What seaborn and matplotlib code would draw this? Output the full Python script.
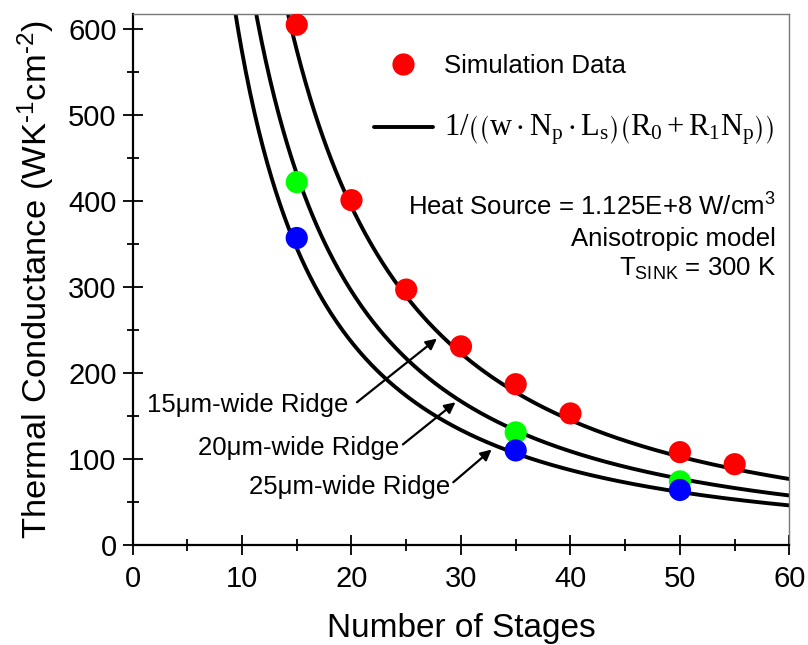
import numpy as np
import pandas as pd
import matplotlib
matplotlib.use("Agg")
import matplotlib.pyplot as plt
from matplotlib.lines import Line2D
import seaborn as sns

# Simulated thermal conductance per ridge width
STAGES_15 = [15, 20, 25, 30, 35, 40, 50, 55]
G_15 = [605, 401, 297, 231, 187, 153, 108, 94]
STAGES_20 = [15, 35, 50]
G_20 = [422, 131, 74]
STAGES_25 = [15, 35, 50]
G_25 = [357, 110, 64]

# Model 1/((w*Np*Ls)(R0 + R1*Np)) for each ridge width
RIDGE_WIDTHS_UM = [15, 20, 25]
STAGE_LENGTH_CM = 0.3
R0 = 0.1824
R1 = 0.005

X_TICKS = [0, 10, 20, 30, 40, 50, 60]
Y_TICKS = [0, 100, 200, 300, 400, 500, 600]

sns.set_theme(style="ticks")
plt.rcParams["font.family"] = ["Liberation Sans", "DejaVu Sans"]
plt.rcParams["mathtext.fontset"] = "stix"
plt.rcParams["mathtext.default"] = "regular"
for key in ("text.color", "axes.labelcolor", "xtick.color", "ytick.color"):
    plt.rcParams[key] = "black"

fig = plt.figure(figsize=(8.08, 6.45), dpi=100)
ax = fig.add_axes([0.164, 0.155, 0.813, 0.824])

# model curves
n_grid = np.linspace(8, 60, 400)
rows = []
for w in RIDGE_WIDTHS_UM:
    g = 1.0 / (w * 1e-4 * n_grid * STAGE_LENGTH_CM * (R0 + R1 * n_grid))
    rows.append(pd.DataFrame({"N": n_grid, "G": g, "w": w}))
curves = pd.concat(rows, ignore_index=True)
sns.lineplot(data=curves, x="N", y="G", units="w", estimator=None,
             color="black", lw=2.8, ax=ax, legend=False, zorder=2)

# simulation points
pts = pd.concat([
    pd.DataFrame({"N": STAGES_15, "G": G_15, "w": "15"}),
    pd.DataFrame({"N": STAGES_20, "G": G_20, "w": "20"}),
    pd.DataFrame({"N": STAGES_25, "G": G_25, "w": "25"}),
], ignore_index=True)
sns.scatterplot(data=pts, x="N", y="G", hue="w",
                palette={"15": "#ff0000", "20": "#00ff00", "25": "#0000ff"},
                s=255, edgecolor="none", ax=ax, legend=False, zorder=3)

ax.set_xlim(0, 60)
ax.set_ylim(0, 618)
ax.set_xticks(X_TICKS)
ax.set_yticks(Y_TICKS)
ax.set_xticks(np.arange(5, 60, 10), minor=True)
ax.set_yticks(np.arange(50, 618, 100), minor=True)
ax.tick_params(axis="both", which="major", direction="inout", length=15,
               width=1.3, labelsize=21, color="black")
ax.tick_params(axis="x", which="major", pad=7)
ax.tick_params(axis="y", which="major", pad=4)
ax.tick_params(axis="both", which="minor", direction="inout", length=8,
               width=1.3, color="black")
for side in ("left", "bottom"):
    ax.spines[side].set_color("black")
    ax.spines[side].set_linewidth(1.6)
for side in ("top", "right"):
    ax.spines[side].set_visible(True)
    ax.spines[side].set_color("#777777")
    ax.spines[side].set_linewidth(1.0)

ax.set_xlabel("Number of Stages", fontsize=24, labelpad=14)
ax.set_ylabel(r"Thermal Conductance (WK$^{\text{-}1}$cm$^{\text{-}2}$)",
              fontsize=24.8, labelpad=8)

# legend
handles = [
    Line2D([], [], marker="o", ls="none", color="#ff0000", markersize=16,
           markeredgewidth=0),
    Line2D([], [], color="black", lw=2.8),
]
labels = [
    "Simulation Data",
    r"$1/\left(\left(w\cdot N_p\cdot L_s\right)\left(R_0+R_1N_p\right)\right)$",
]
leg = ax.legend(handles, labels, loc="upper left", bbox_to_anchor=(0.332, 0.967),
                frameon=False, fontsize=18.5, handlelength=2.3, handletextpad=0.45,
                labelspacing=1.35)
leg.get_texts()[1].set_fontfamily("Liberation Serif")
leg.get_texts()[1].set_fontsize(22)

# conditions
ax.text(58.8, 393, "Heat Source = 1.125E+8 W/cm$^3$", ha="right", va="center", fontsize=18.5)
ax.text(58.8, 356, "Anisotropic model", ha="right", va="center", fontsize=18.5)
ax.text(58.8, 321, "T$_{SINK}$ = 300 K", ha="right", va="center", fontsize=18.5)

# ridge annotations
arrow = dict(arrowstyle="-|>", color="black", lw=1.6, mutation_scale=16,
             shrinkA=0, shrinkB=0)
ax.text(19.7, 163, "15\u03bcm-wide Ridge", ha="right", va="center", fontsize=18.5)
ax.annotate("", xy=(27.8, 240), xytext=(20.5, 166), arrowprops=arrow)
ax.text(24.4, 113, "20\u03bcm-wide Ridge", ha="right", va="center", fontsize=18.5)
ax.annotate("", xy=(29.5, 166), xytext=(24.7, 117), arrowprops=arrow)
ax.text(29.0, 68, "25\u03bcm-wide Ridge", ha="right", va="center", fontsize=18.5)
ax.annotate("", xy=(32.8, 111), xytext=(29.3, 73), arrowprops=arrow)

fig.savefig("out.png", dpi=100)
